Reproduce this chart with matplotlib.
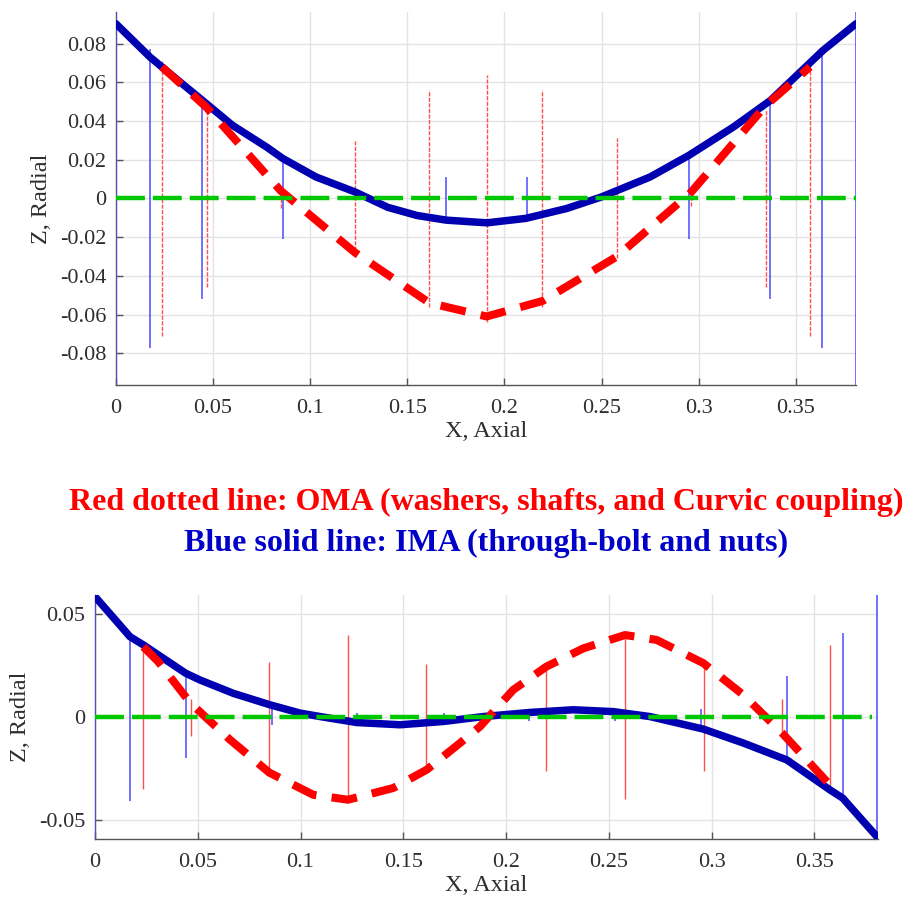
import numpy as np
import matplotlib
matplotlib.use("Agg")
import matplotlib.pyplot as plt

plt.rcParams['font.family'] = ['Liberation Serif', 'DejaVu Serif']
plt.rcParams['axes.unicode_minus'] = False

# ---- top chart data ----
top_x_ima = [0, 0.0175, 0.033, 0.0445, 0.060, 0.0775, 0.086, 0.103, 0.123, 0.140, 0.155, 0.170,
             0.191, 0.211, 0.232, 0.250, 0.275, 0.295, 0.318, 0.337, 0.364, 0.381]
top_z_ima = [0.0903, 0.0731, 0.0602, 0.0507, 0.0378, 0.0266, 0.0206, 0.0111, 0.0034, -0.0046, -0.0088, -0.0112,
             -0.0126, -0.0103, -0.0052, 0.0008, 0.0111, 0.0223, 0.0370, 0.0507, 0.0765, 0.0903]
top_x_oma = [0.0237, 0.0467, 0.0848, 0.1231, 0.1614, 0.1908, 0.2196, 0.2579, 0.2959, 0.3345, 0.3573]
top_z_oma = [0.068, 0.047, 0.004, -0.028, -0.054, -0.061, -0.053, -0.030, 0.003, 0.048, 0.068]
top_ima_bar_x = [0, 0.0175, 0.0445, 0.0862, 0.1697, 0.2114, 0.295, 0.3367, 0.3637, 0.381]
top_ima_bar_h = [0.1, 0.0774, 0.052, 0.021, 0.011, 0.011, 0.021, 0.052, 0.0774, 0.1]
top_oma_bar_x = [0.0237, 0.0467, 0.0848, 0.1231, 0.1614, 0.1908, 0.2196, 0.2579, 0.2959, 0.3345, 0.3573]
top_oma_bar_h = [0.071, 0.046, 0.005, 0.030, 0.056, 0.064, 0.056, 0.031, 0.004, 0.046, 0.071]
top_yticks = [-0.08, -0.06, -0.04, -0.02, 0, 0.02, 0.04, 0.06, 0.08]
top_ylabels = ['-0.08', '-0.06', '-0.04', '-0.02', '0', '0.02', '0.04', '0.06', '0.08']

# ---- bottom chart data ----
bot_x_ima = [0, 0.017, 0.0235, 0.0441, 0.0511, 0.0673, 0.0852, 0.0997, 0.1095, 0.1273, 0.1484,
             0.1695, 0.189, 0.2117, 0.2327, 0.2522, 0.27, 0.296, 0.3155, 0.3366, 0.3576, 0.3638, 0.3803]
bot_z_ima = [0.0587, 0.0392, 0.0352, 0.0214, 0.0181, 0.0116, 0.006, 0.002, 0.0003, -0.0026, -0.0037,
             -0.0021, 0.0003, 0.0023, 0.0036, 0.0027, 0.0003, -0.0058, -0.0126, -0.0208, -0.0354, -0.0394, -0.058]
bot_x_oma = [0.0235, 0.0308, 0.0465, 0.0657, 0.0848, 0.1062, 0.1231, 0.1451, 0.1614, 0.1776,
             0.1873, 0.2035, 0.2196, 0.2376, 0.2579, 0.2733, 0.2960, 0.3155, 0.3344, 0.3576]
bot_z_oma = [0.0343, 0.027, 0.0068, -0.011, -0.027, -0.0378, -0.0402, -0.0345, -0.0256, -0.0126,
             -0.0046, 0.0133, 0.0246, 0.0335, 0.040, 0.0376, 0.0263, 0.0108, -0.0078, -0.033]
bot_ima_bar_x = [0, 0.017, 0.0441, 0.086, 0.1276, 0.1698, 0.2113, 0.253, 0.2947, 0.3366, 0.3638, 0.3803]
bot_ima_bar_h = [0.06, 0.041, 0.020, 0.004, 0.002, 0.002, 0.002, 0.002, 0.004, 0.020, 0.041, 0.06]
bot_oma_bar_x = [0.0232, 0.0465, 0.0848, 0.123, 0.161, 0.2196, 0.2579, 0.2963, 0.3344, 0.3576]
bot_oma_bar_h = [0.035, 0.009, 0.027, 0.040, 0.026, 0.026, 0.040, 0.026, 0.009, 0.035]
bot_yticks = [-0.05, 0, 0.05]
bot_ylabels = ['-0.05', '0', '0.05']

xticks = [0, 0.05, 0.1, 0.15, 0.2, 0.25, 0.3, 0.35]
xlabels = ['0', '0.05', '0.1', '0.15', '0.2', '0.25', '0.3', '0.35']

BLUE = '#0000b0'
RED = '#ff0000'
GREEN = '#00c800'


def draw(ax, x_ima, z_ima, x_oma, z_oma, bx, bh, rx, rh, zero_end, ylim, yticks, ylabels, red_style):
    bh = np.array(bh)
    rh = np.array(rh)
    ax.vlines(bx, -bh, bh, color='#4a4aff', lw=1.1, zorder=2.6)
    ax.vlines(rx, -rh, rh, color='#ff5050', lw=1.0, linestyles=red_style, zorder=2.6)
    ax.plot(x_ima, z_ima, color=BLUE, lw=5.4, solid_capstyle='round', zorder=3)
    ax.plot(x_oma, z_oma, color=RED, lw=5.8, dashes=(3.2, 1.9), zorder=4)
    ax.plot([0, zero_end], [0, 0], color=GREEN, lw=3.2, dashes=(6.5, 1.8), zorder=5)
    ax.set_xlim(0, 0.381)
    ax.set_ylim(*ylim)
    ax.set_xticks(xticks, xlabels)
    ax.set_yticks(yticks, ylabels)
    ax.grid(True, color='#e3e3e3', lw=1.0, zorder=0)
    ax.set_axisbelow(True)
    for s in ['top', 'right']:
        ax.spines[s].set_visible(False)
    for s in ['left', 'bottom']:
        ax.spines[s].set_color('#555555')
        ax.spines[s].set_linewidth(1.0)
    ax.tick_params(direction='in', length=5, width=1, color='#555555',
                   labelsize=16, labelcolor='#2e2e2e')
    ax.tick_params(axis='y', pad=7)
    ax.tick_params(axis='x', pad=10)
    ax.set_xlabel('X, Axial', fontsize=17.5, color='#2e2e2e', labelpad=2)
    ax.set_ylabel('Z, Radial', fontsize=17.5, color='#2e2e2e', labelpad=6)


fig = plt.figure(figsize=(9.11, 9.06), dpi=100)
ax1 = fig.add_axes([0.1273, 0.5751, 0.8123, 0.4117])
ax2 = fig.add_axes([0.1043, 0.0740, 0.8595, 0.2693])

draw(ax1, top_x_ima, top_z_ima, top_x_oma, top_z_oma, top_ima_bar_x, top_ima_bar_h,
     top_oma_bar_x, top_oma_bar_h, 0.381, (-0.0964, 0.0964), top_yticks, top_ylabels, (0, (3, 1)))
draw(ax2, bot_x_ima, bot_z_ima, bot_x_oma, bot_z_oma, bot_ima_bar_x, bot_ima_bar_h,
     bot_oma_bar_x, bot_oma_bar_h, 0.378, (-0.0593, 0.0595), bot_yticks, bot_ylabels, 'solid')

fig.text(0.534, 1 - 502 / 906, 'Red dotted line: OMA (washers, shafts, and Curvic coupling)',
         color=RED, fontsize=23, fontweight='bold', ha='center', va='center')
fig.text(0.534, 1 - 543 / 906, 'Blue solid line: IMA (through-bolt and nuts)',
         color='#0000c8', fontsize=23, fontweight='bold', ha='center', va='center')

fig.savefig('out.png', dpi=100)
